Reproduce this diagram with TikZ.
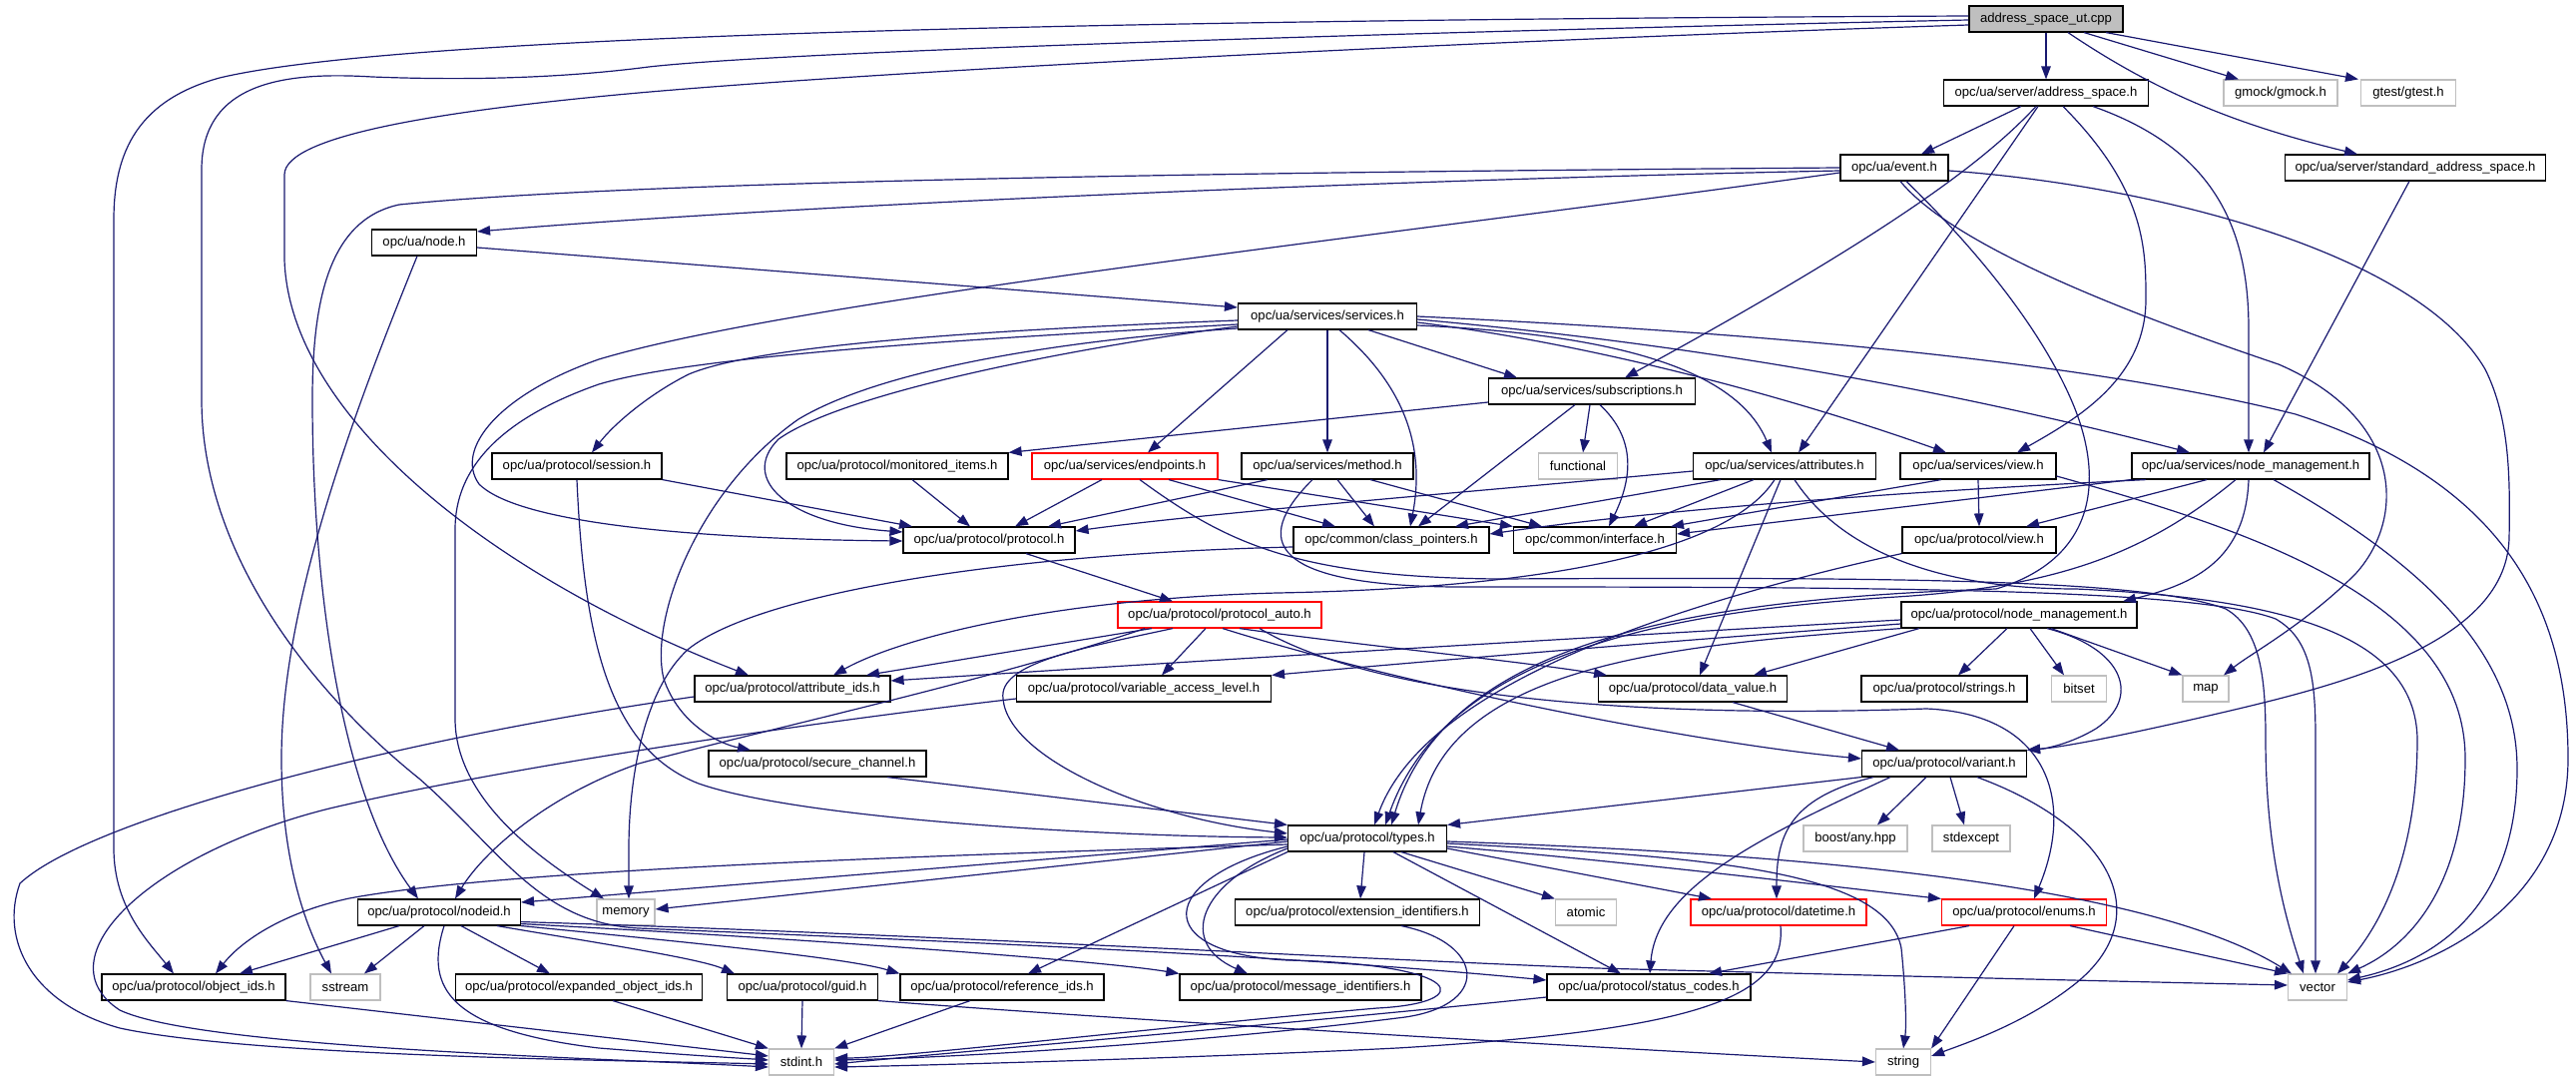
\documentclass[tikz,border=0pt]{standalone}
\usepackage{fontspec}
\setmainfont{Liberation Sans}
\usetikzlibrary{arrows.meta}
\definecolor{edgeblue}{HTML}{191970}
\definecolor{sysgray}{HTML}{BFBFBF}
\definecolor{rootfill}{HTML}{BFBFBF}
\definecolor{redline}{HTML}{FF0000}
\tikzset{
  hdrbox/.style={draw=black, line width=1.15pt, minimum height=26pt, inner sep=0pt, anchor=center,
    font=\fontsize{13.1pt}{15pt}\selectfont},
  sysbox/.style={hdrbox, draw=sysgray},
  redbox/.style={hdrbox, draw=redline},
  conn/.style={draw=edgeblue, line width=1.2pt, -{Triangle[length=13pt,width=9.5pt]}},
}
\begin{document}
\begin{tikzpicture}[x=1pt,y=-1pt]
\fill[white] (0,0) rectangle (2581,1083);
\useasboundingbox (0,0) rectangle (2581,1083);

% ---------- nodes ----------
\node[hdrbox,fill=rootfill,minimum width=154pt] (ut) at (2050,19) {address\_space\_ut.cpp};
\node[hdrbox,minimum width=205pt] (as) at (2050,93) {opc/ua/server/address\_space.h};
\node[sysbox,minimum width=114pt] (gmock) at (2285,93) {gmock/gmock.h};
\node[sysbox,minimum width=95pt] (gtest) at (2413,93) {gtest/gtest.h};
\node[hdrbox,minimum width=108pt] (event) at (1898,168) {opc/ua/event.h};
\node[hdrbox,minimum width=261pt] (sas) at (2420,168) {opc/ua/server/standard\_address\_space.h};
\node[hdrbox,minimum width=105pt] (node) at (425,243) {opc/ua/node.h};
\node[hdrbox,minimum width=179pt] (services) at (1330,317) {opc/ua/services/services.h};
\node[hdrbox,minimum width=207pt] (subs) at (1595,392) {opc/ua/services/subscriptions.h};
\node[hdrbox,minimum width=170pt] (session) at (578,467) {opc/ua/protocol/session.h};
\node[hdrbox,minimum width=222pt] (mon) at (899,467) {opc/ua/protocol/monitored\_items.h};
\node[redbox,minimum width=186pt] (endp) at (1127,467) {opc/ua/services/endpoints.h};
\node[hdrbox,minimum width=172pt] (method) at (1330,467) {opc/ua/services/method.h};
\node[sysbox,minimum width=79pt] (functional) at (1581,467) {functional};
\node[hdrbox,minimum width=183pt] (attrs) at (1788,467) {opc/ua/services/attributes.h};
\node[hdrbox,minimum width=156pt] (sview) at (1982,467) {opc/ua/services/view.h};
\node[hdrbox,minimum width=238pt] (snm) at (2255,467) {opc/ua/services/node\_management.h};
\node[hdrbox,minimum width=172pt] (protocol) at (991,541) {opc/ua/protocol/protocol.h};
\node[hdrbox,minimum width=196pt] (cp) at (1394,541) {opc/common/class\_pointers.h};
\node[hdrbox,minimum width=163pt] (iface) at (1598,541) {opc/common/interface.h};
\node[hdrbox,minimum width=154pt] (pview) at (1983,541) {opc/ua/protocol/view.h};
\node[redbox,minimum width=204pt] (pauto) at (1222,616) {opc/ua/protocol/protocol\_auto.h};
\node[hdrbox,minimum width=236pt] (pnm) at (2023,616) {opc/ua/protocol/node\_management.h};
\node[hdrbox,minimum width=196pt] (attrids) at (794,690) {opc/ua/protocol/attribute\_ids.h};
\node[hdrbox,minimum width=255pt] (val) at (1146,690) {opc/ua/protocol/variable\_access\_level.h};
\node[hdrbox,minimum width=189pt] (dv) at (1696,690) {opc/ua/protocol/data\_value.h};
\node[hdrbox,minimum width=166pt] (strings) at (1948,690) {opc/ua/protocol/strings.h};
\node[sysbox,minimum width=55pt] (bitset) at (2083,690) {bitset};
\node[sysbox,minimum width=46pt] (map) at (2210,690) {map};
\node[hdrbox,minimum width=218pt] (secch) at (819,765) {opc/ua/protocol/secure\_channel.h};
\node[hdrbox,minimum width=165pt] (variant) at (1948,765) {opc/ua/protocol/variant.h};
\node[hdrbox,minimum width=159pt] (types) at (1370,840) {opc/ua/protocol/types.h};
\node[sysbox,minimum width=104pt] (boost) at (1859,840) {boost/any.hpp};
\node[sysbox,minimum width=78pt] (stdexcept) at (1975,840) {stdexcept};
\node[hdrbox,minimum width=163pt] (nodeid) at (440,914) {opc/ua/protocol/nodeid.h};
\node[sysbox,minimum width=58pt] (memory) at (627,914) {memory};
\node[hdrbox,minimum width=245pt] (ext) at (1360,914) {opc/ua/protocol/extension\_identifiers.h};
\node[sysbox,minimum width=61pt] (atomic) at (1589,914) {atomic};
\node[redbox,minimum width=176pt] (datetime) at (1782,914) {opc/ua/protocol/datetime.h};
\node[redbox,minimum width=165pt] (enums) at (2028,914) {opc/ua/protocol/enums.h};
\node[hdrbox,minimum width=184pt] (objids) at (194,989) {opc/ua/protocol/object\_ids.h};
\node[sysbox,minimum width=70pt] (sstream) at (346,989) {sstream};
\node[hdrbox,minimum width=247pt] (expanded) at (580,989) {opc/ua/protocol/expanded\_object\_ids.h};
\node[hdrbox,minimum width=151pt] (guid) at (804,989) {opc/ua/protocol/guid.h};
\node[hdrbox,minimum width=204pt] (refids) at (1004,989) {opc/ua/protocol/reference\_ids.h};
\node[hdrbox,minimum width=242pt] (msgids) at (1303,989) {opc/ua/protocol/message\_identifiers.h};
\node[hdrbox,minimum width=204pt] (status) at (1652,989) {opc/ua/protocol/status\_codes.h};
\node[sysbox,minimum width=59pt] (vector) at (2322,989) {vector};
\node[sysbox,minimum width=65pt] (stdint) at (803,1064) {stdint.h};
\node[sysbox,minimum width=55pt] (string) at (1907,1064) {string};

% ---------- address_space_ut.cpp ----------
\draw[conn] (ut.south) -- (as.north);
\draw[conn] ([xshift=38pt]ut.south) -- ([xshift=-42pt]gmock.north);
\draw[conn] ([xshift=60pt]ut.south) -- ([xshift=-50pt]gtest.north);
\draw[conn] ([xshift=22pt]ut.south) .. controls (2160,92) and (2240,125) .. ([xshift=-58pt]sas.north);
\draw[conn] ([yshift=3pt]ut.west) .. controls (1100,20) and (400,35) .. (220,78) .. controls (140,100) and (114,150) .. (114,220) -- (114,850) .. controls (114,910) and (150,945) .. ([xshift=-20pt]objids.north);
\draw[conn] ([yshift=-1pt]ut.west) .. controls (1500,30) and (800,50) .. (650,67) .. controls (550,80) and (450,80) .. (373,77) .. controls (290,72) and (202,80) .. (202,170) -- (202,400) .. controls (202,560) and (320,700) .. (420,780) .. controls (500,850) and (540,925) .. (640,930) .. controls (1000,945) and (1300,958) .. ([yshift=7pt]status.west);
\draw[conn] ([yshift=-6pt]ut.west) .. controls (1500,40) and (900,70) .. (640,93) .. controls (450,110) and (285,135) .. (285,175) -- (285,260) .. controls (290,420) and (500,580) .. ([xshift=-44pt]attrids.north);

% ---------- address_space.h ----------
\draw[conn] ([xshift=-25pt]as.south) -- ([xshift=27pt]event.north);
\draw[conn] ([xshift=-10pt]as.south) .. controls (1990,160) and (1900,230) .. ([xshift=33pt]subs.north);
\draw[conn] ([xshift=-8pt]as.south) -- ([xshift=14pt]attrs.north);
\draw[conn] ([xshift=17pt]as.south) .. controls (2150,190) and (2150,250) .. (2150,300) .. controls (2150,380) and (2080,420) .. ([xshift=39pt]sview.north);
\draw[conn] ([xshift=47pt]as.south) .. controls (2220,150) and (2253,230) .. (2253,330) -- ([xshift=-2pt]snm.north);
\draw[conn] ([xshift=-6pt]sas.south) -- ([xshift=13pt]snm.north);

% ---------- event.h ----------
\draw[conn] ([yshift=-3pt]event.west) .. controls (1400,180) and (800,205) .. ([yshift=11pt]node.east);
\draw[conn] (event.west) .. controls (1300,172) and (650,180) .. (400,205) .. controls (330,220) and (313,300) .. (313,400) .. controls (313,600) and (345,800) .. ([xshift=-21pt]nodeid.north);
\draw[conn] ([yshift=-5pt]event.west) .. controls (1400,235) and (800,300) .. (600,360) .. controls (500,395) and (455,450) .. (480,485) .. controls (520,525) and (700,540) .. ([yshift=-1pt]protocol.west);
\draw[conn] ([xshift=6pt]event.south) .. controls (1960,250) and (2150,320) .. (2283,365) .. controls (2410,420) and (2410,520) .. (2360,575) .. controls (2310,625) and (2255,655) .. ([xshift=18pt]map.north);
\draw[conn] ([yshift=-3pt]event.east) .. controls (2150,185) and (2420,250) .. (2490,370) .. controls (2515,420) and (2515,480) .. (2514,540) .. controls (2510,650) and (2330,690) .. (2200,720) .. controls (2120,738) and (2070,748) .. (variant.north east);
\draw[conn] ([xshift=12pt]event.south) .. controls (1970,240) and (2040,320) .. (2075,400) .. controls (2110,480) and (2100,560) .. (2000,590) .. controls (1700,600) and (1450,640) .. ([xshift=24pt]types.north);

% ---------- node.h ----------
\draw[conn] ([yshift=-5pt]node.east) -- ([yshift=9pt]services.west);
\draw[conn] ([xshift=-7pt]node.south) .. controls (360,400) and (282,600) .. (282,760) .. controls (282,870) and (310,935) .. ([xshift=-14pt]sstream.north);

% ---------- services.h ----------
\draw[conn] ([xshift=41pt]services.south) -- ([xshift=-75pt]subs.north);
\draw[conn] ([xshift=-40pt]services.south) -- ([xshift=23pt]endp.north);
\draw[conn] (services.south) -- (method.north);
\draw[conn] ([xshift=12pt]services.south) .. controls (1400,380) and (1430,440) .. ([xshift=19pt]cp.north);
\draw[conn] ([yshift=-9pt]services.east) .. controls (1620,335) and (1740,370) .. ([xshift=-13pt]attrs.north);
\draw[conn] ([yshift=-6pt]services.east) .. controls (1600,345) and (1800,400) .. ([xshift=-32pt]sview.north);
\draw[conn] ([yshift=-3pt]services.east) .. controls (1700,345) and (1950,390) .. ([xshift=-61pt]snm.north);
\draw[conn] (services.east) .. controls (1800,335) and (2100,365) .. (2300,415) .. controls (2500,480) and (2573,600) .. (2573,760) .. controls (2573,900) and (2450,965) .. ([yshift=5pt]vector.east);
\draw[conn] ([yshift=-4pt]services.west) .. controls (1000,330) and (760,345) .. (690,375) .. controls (650,395) and (615,425) .. ([xshift=15pt]session.north);
\draw[conn] ([yshift=-8pt]services.west) .. controls (1000,338) and (700,355) .. (600,385) .. controls (500,420) and (456,470) .. (456,530) -- (456,720) .. controls (456,800) and (540,860) .. ([xshift=-22pt]memory.north);
\draw[conn] ([yshift=-10pt]services.west) .. controls (1100,345) and (850,390) .. (780,440) .. controls (740,480) and (790,525) .. ([yshift=8pt]protocol.west);
\draw[conn] ([yshift=-12pt]services.west) .. controls (1050,342) and (880,372) .. (800,420) .. controls (700,490) and (650,620) .. (665,680) .. controls (680,725) and (720,745) .. ([xshift=-67pt]secch.north);

% ---------- subscriptions.h ----------
\draw[conn] ([yshift=-11pt]subs.west) -- (mon.north east);
\draw[conn] ([xshift=-2pt]subs.south) -- ([xshift=5pt]functional.north);
\draw[conn] ([xshift=-17pt]subs.south) -- ([xshift=27pt]cp.north);
\draw[conn] ([xshift=8pt]subs.south) .. controls (1640,440) and (1635,480) .. ([xshift=14pt]iface.north);

% ---------- monitored_items / session / endpoints / method ----------
\draw[conn] ([xshift=15pt]mon.south) -- ([xshift=-19pt]protocol.north);
\draw[conn] (session.south east) -- ([xshift=-77pt]protocol.north);
\draw[conn] (session.south) .. controls (585,640) and (610,750) .. (700,785) .. controls (800,820) and (1100,838) .. ([yshift=1pt]types.west);
\draw[conn] ([xshift=-23pt]endp.south) -- ([xshift=26pt]protocol.north);
\draw[conn] ([xshift=44pt]endp.south) -- ([xshift=-56pt]cp.north);
\draw[conn] (endp.south east) -- (iface.north west);
\draw[conn] ([xshift=15pt]endp.south) .. controls (1230,545) and (1300,578) .. (1500,580) .. controls (1900,578) and (2150,580) .. (2230,610) .. controls (2265,630) and (2270,680) .. (2270,740) .. controls (2270,850) and (2290,920) .. ([xshift=-14pt]vector.north);
\draw[conn] ([xshift=-60pt]method.south) -- ([xshift=59pt]protocol.north);
\draw[conn] ([xshift=10pt]method.south) -- ([xshift=-17pt]cp.north);
\draw[conn] ([xshift=43pt]method.south) -- ([xshift=-53pt]iface.north);
\draw[conn] ([xshift=-15pt]method.south) .. controls (1255,540) and (1265,590) .. (1480,588) .. controls (1900,588) and (2200,590) .. (2280,620) .. controls (2315,640) and (2320,680) .. (2320,740) -- ([xshift=-2pt]vector.north);

% ---------- attributes.h ----------
\draw[conn] ([yshift=-5pt]attrs.west) .. controls (1450,495) and (1200,515) .. ([yshift=9pt]protocol.east);
\draw[conn] ([xshift=-64pt]attrs.south) -- ([xshift=64pt]cp.north);
\draw[conn] ([xshift=-31pt]attrs.south) -- ([xshift=39pt]iface.north);
\draw[conn] ([xshift=-4pt]attrs.south) -- ([xshift=7pt]dv.north);
\draw[conn] ([xshift=-10pt]attrs.south) .. controls (1740,540) and (1600,588) .. (1280,594) .. controls (1050,600) and (900,640) .. ([xshift=41pt]attrids.north);
\draw[conn] ([xshift=10pt]attrs.south) .. controls (1840,545) and (1930,590) .. (2080,590) .. controls (2300,600) and (2420,640) .. (2422,740) .. controls (2422,880) and (2370,945) .. ([xshift=20pt]vector.north);

% ---------- services/view.h ----------
\draw[conn] (sview.south) -- (pview.north);
\draw[conn] ([xshift=-37pt]sview.south) -- ([xshift=76pt]iface.north);
\draw[conn] ([yshift=-10pt]sview.east) .. controls (2250,530) and (2470,600) .. (2470,760) .. controls (2470,880) and (2420,945) .. (vector.north east);

% ---------- services/node_management.h ----------
\draw[conn] ([xshift=-2pt]snm.south) .. controls (2250,560) and (2200,585) .. ([xshift=104pt]pnm.north);
\draw[conn] ([xshift=-44pt]snm.south) -- ([xshift=47pt]pview.north);
\draw[conn] ([xshift=-120pt]snm.south) -- ([yshift=6pt]iface.east);
\draw[conn] ([xshift=-105pt]snm.south) .. controls (2000,488) and (1700,505) .. ([yshift=6pt]cp.east);
\draw[conn] ([xshift=23pt]snm.south) .. controls (2420,560) and (2522,650) .. (2522,770) .. controls (2522,900) and (2450,960) .. ([yshift=7pt]vector.east);
\draw[conn] ([xshift=-15pt]snm.south) .. controls (2150,555) and (2060,588) .. (1900,598) .. controls (1680,612) and (1450,650) .. ([xshift=18pt]types.north);

% ---------- protocol/view.h ----------
\draw[conn] (pview.south west) .. controls (1700,600) and (1430,680) .. ([xshift=7pt]types.north);

% ---------- protocol/node_management.h ----------
\draw[conn] ([xshift=-12pt]pnm.south) -- ([xshift=14pt]strings.north);
\draw[conn] ([xshift=11pt]pnm.south) -- ([xshift=-15pt]bitset.north);
\draw[conn] ([xshift=32pt]pnm.south) -- (map.north west);
\draw[conn] ([xshift=28pt]pnm.south) .. controls (2130,650) and (2145,700) .. (2100,730) .. controls (2075,745) and (2050,750) .. (variant.north east);
\draw[conn] ([xshift=-100pt]pnm.south) -- ([xshift=61pt]dv.north);
\draw[conn] ([yshift=-5pt]pnm.west) .. controls (1600,638) and (1200,662) .. ([yshift=8pt]attrids.east);
\draw[conn] ([yshift=-9pt]pnm.west) .. controls (1600,648) and (1400,665) .. (val.north east);
\draw[conn] (pnm.south west) .. controls (1700,645) and (1450,660) .. ([xshift=51pt]types.north);

% ---------- protocol.h / protocol_auto.h ----------
\draw[conn] ([xshift=37pt]protocol.south) -- ([xshift=-47pt]pauto.north);
\draw[conn] ([xshift=-68pt]pauto.south) -- ([xshift=74pt]attrids.north);
\draw[conn] ([xshift=-14pt]pauto.south) -- ([xshift=18pt]val.north);
\draw[conn] ([xshift=-75pt]pauto.south) .. controls (1000,680) and (750,735) .. (640,765) .. controls (540,800) and (480,860) .. ([xshift=16pt]nodeid.north);
\draw[conn] ([xshift=-47pt]pauto.south) .. controls (1080,650) and (1000,665) .. (1005,700) .. controls (1010,760) and (1150,820) .. ([yshift=5pt]types.west);
\draw[conn] ([xshift=3pt]pauto.south) .. controls (1400,685) and (1700,745) .. ([yshift=5pt]variant.west);
\draw[conn] ([xshift=20pt]pauto.south) .. controls (1350,645) and (1520,662) .. ([xshift=-86pt]dv.north);
\draw[conn] ([xshift=40pt]pauto.south) .. controls (1380,700) and (1650,720) .. (1930,710) .. controls (2050,715) and (2080,800) .. ([xshift=10pt]enums.north);

% ---------- secure_channel / data_value ----------
\draw[conn] ([xshift=70pt]secch.south) -- (types.north west);
\draw[conn] ([xshift=40pt]dv.south) -- ([xshift=-45pt]variant.north);

% ---------- attribute_ids / variable_access_level ----------
\draw[conn] ([yshift=-10pt]val.west) .. controls (800,725) and (500,770) .. (330,810) .. controls (150,855) and (40,960) .. (120,1012) .. controls (200,1050) and (600,1060) .. ([yshift=-5pt]stdint.west);
\draw[conn] ([yshift=-8pt]attrids.west) .. controls (400,740) and (90,820) .. (20,885) .. controls (0,940) and (30,1005) .. (120,1030) .. controls (250,1058) and (600,1062) .. ([yshift=-2pt]stdint.west);

% ---------- cp -> memory ----------
\draw[conn] ([yshift=-7pt]cp.west) .. controls (1000,555) and (760,595) .. (690,650) .. controls (645,690) and (630,780) .. (630,850) -- ([xshift=3pt]memory.north);

% ---------- types.h ----------
\draw[conn] ([yshift=-3pt]types.west) -- ([yshift=3pt]memory.east);
\draw[conn] ([yshift=-1pt]types.west) -- ([yshift=10pt]nodeid.east);
\draw[conn] ([yshift=-6pt]types.west) .. controls (900,858) and (500,872) .. (350,900) .. controls (280,915) and (240,945) .. ([xshift=22pt]objids.north);
\draw[conn] ([xshift=-3pt]types.south) -- ([xshift=3pt]ext.north);
\draw[conn] ([xshift=34pt]types.south) -- (atomic.north west);
\draw[conn] ([yshift=-10pt]types.east) -- ([xshift=-67pt]datetime.north);
\draw[conn] ([xshift=26pt]types.south) -- ([xshift=-28pt]status.north);
\draw[conn] ([yshift=-5pt]types.east) .. controls (1700,858) and (1890,870) .. (1905,950) .. controls (1910,1000) and (1910,1030) .. (string.north);
\draw[conn] ([yshift=-8pt]types.east) .. controls (1650,865) and (1850,890) .. (enums.north west);
\draw[conn] ([yshift=-3pt]types.east) .. controls (1800,855) and (2150,885) .. ([xshift=4pt]vector.north west);
\draw[conn] (types.south west) -- ([xshift=26pt]refids.north);
\draw[conn] ([yshift=-10pt]types.west) .. controls (1200,885) and (1180,945) .. ([xshift=-53pt]msgids.north);
\draw[conn] ([yshift=-8pt]types.west) .. controls (1160,880) and (1150,955) .. (1290,962) .. controls (1470,966) and (1480,1005) .. (1380,1010) .. controls (1150,1030) and (900,1060) .. ([yshift=4pt]stdint.east);

% ---------- nodeid.h ----------
\draw[conn] ([xshift=-40pt]nodeid.south) -- ([xshift=46pt]objids.north);
\draw[conn] ([xshift=-15pt]nodeid.south) -- ([xshift=19pt]sstream.north);
\draw[conn] ([xshift=22pt]nodeid.south) -- ([xshift=-29pt]expanded.north);
\draw[conn] ([xshift=58pt]nodeid.south) .. controls (600,945) and (700,960) .. ([xshift=-68pt]guid.north);
\draw[conn] (nodeid.south east) .. controls (700,945) and (850,960) .. (refids.north west);
\draw[conn] ([yshift=2pt]nodeid.south east) .. controls (800,940) and (1100,962) .. (msgids.north west);
\draw[conn] ([yshift=4pt]nodeid.south east) .. controls (900,935) and (1300,958) .. (1600,970) .. controls (1900,978) and (2200,985) .. ([yshift=2pt]vector.west);
\draw[conn] ([xshift=5pt]nodeid.south) .. controls (425,990) and (450,1032) .. (600,1050) .. controls (700,1058) and (740,1060) .. ([yshift=2pt]stdint.west);

% ---------- leaves -> stdint / string ----------
\draw[conn] (objids.south east) -- ([yshift=6pt]stdint.west);
\draw[conn] ([xshift=34pt]expanded.south) -- (stdint.north west);
\draw[conn] (guid.south) -- (stdint.north);
\draw[conn] ([xshift=-32pt]refids.south) -- (stdint.north east);
\draw[conn] (guid.south east) .. controls (1100,1020) and (1600,1050) .. (string.west);
\draw[conn] ([xshift=44pt]ext.south) .. controls (1490,945) and (1495,1010) .. (1400,1020) .. controls (1200,1045) and (950,1060) .. ([yshift=2pt]stdint.east);
\draw[conn] ([yshift=-10pt]status.west) .. controls (1300,1025) and (1000,1050) .. ([yshift=-2pt]stdint.east);
\draw[conn] ([xshift=2pt]datetime.south) .. controls (1790,1000) and (1700,1032) .. (1400,1050) .. controls (1200,1060) and (900,1068) .. ([yshift=-5pt]stdint.east);
\draw[conn] ([xshift=-55pt]enums.south) -- ([xshift=60pt]status.north);
\draw[conn] ([xshift=-10pt]enums.south) -- (string.north east);
\draw[conn] ([xshift=46pt]enums.south) -- (vector.north west);

% ---------- variant.h ----------
\draw[conn] (variant.south west) -- (types.north east);
\draw[conn] ([xshift=-18pt]variant.south) -- ([xshift=22pt]boost.north);
\draw[conn] ([xshift=6pt]variant.south) -- ([xshift=-7pt]stdexcept.north);
\draw[conn] ([xshift=33pt]variant.south) .. controls (2120,830) and (2160,920) .. (2080,985) .. controls (2030,1025) and (1970,1045) .. ([yshift=6pt]string.east);
\draw[conn] ([xshift=-71pt]variant.south) .. controls (1790,800) and (1780,840) .. ([xshift=-2pt]datetime.north);
\draw[conn] ([xshift=-54pt]variant.south) .. controls (1760,840) and (1660,890) .. ([xshift=1pt]status.north);

\end{tikzpicture}
\end{document}
